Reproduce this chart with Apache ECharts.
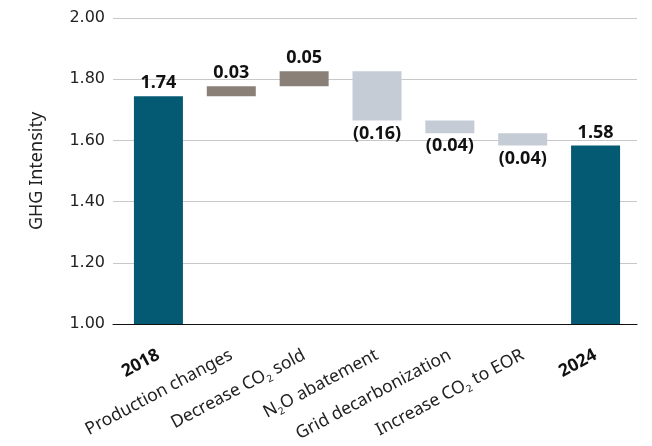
<!DOCTYPE html>
<html lang="en">
<head>
    <meta charset="UTF-8">
    <title>GHG Intensity</title>
    <script src="https://cdn.jsdelivr.net/npm/echarts@6/dist/echarts.min.js"></script>
    <style>
        body { margin: 0; background: #fff; }
    </style>
</head>
<body>
<div id="main" style="width: 652px;height:446px;"></div>

<script type="text/javascript">
    // 数据
    var categories = ['2018', 'Production changes', 'Decrease CO2 sold', 'N2O abatement',
        'Grid decarbonization', 'Increase CO2 to EOR', '2024'];
    var barValues = [1.744, 0.033, 0.049, -0.161, -0.042, -0.040, 1.583];
    var barKinds = ['total', 'up', 'up', 'down', 'down', 'down', 'total'];
    var yTicks = [1.0, 1.2, 1.4, 1.6, 1.8, 2.0];

    var colors = {total: '#045a73', up: '#8a8077', down: '#c5ccd5'};

    // 计算瀑布图的底座和高度
    var baseData = [];
    var showData = [];
    var running = 0;
    for (var i = 0; i < barValues.length; i++) {
        var v = barValues[i];
        var kind = barKinds[i];
        if (kind === 'total') {
            running = v;
            baseData.push(0);
            showData.push({value: v, itemStyle: {color: colors.total}, label: {position: 'top'}});
        } else if (v >= 0) {
            baseData.push(running);
            running += v;
            showData.push({value: v, itemStyle: {color: colors.up}, label: {position: 'top'}});
        } else {
            running += v;
            baseData.push(running);
            showData.push({value: -v, itemStyle: {color: colors.down}, label: {position: 'bottom'}});
        }
    }

    function xLabel(name, idx) {
        if (barKinds[idx] === 'total') {
            return '{b|' + name + '}';
        }
        var parts = name.split(/(CO2|N2O)/);
        var out = '';
        parts.forEach(function (p) {
            if (p === 'CO2') out += '{t|CO}{sub|2}';
            else if (p === 'N2O') out += '{t|N}{sub|2}{t|O}';
            else if (p) out += '{t|' + p + '}';
        });
        return out;
    }

    var myChart = echarts.init(document.getElementById('main'));
    myChart.setOption({
        animation: false,
        textStyle: {fontFamily: 'Noto Sans'},
        grid: [
            {left: 113, right: 15, top: 18, bottom: 122},
            {left: 122, right: 20, top: 18, bottom: 122}
        ],
        xAxis: [
            {
                gridIndex: 0, type: 'value', min: 0, max: 1,
                axisLine: {show: true, onZero: false, lineStyle: {color: '#111', width: 1.2}},
                axisTick: {show: false}, axisLabel: {show: false}, splitLine: {show: false}
            },
            {
                gridIndex: 1, type: 'category', data: categories,
                axisLine: {show: false}, axisTick: {show: false},
                axisLabel: {
                    interval: 0, rotate: 28, margin: 30, color: '#222',
                    fontSize: 17.5,
                    formatter: xLabel,
                    rich: {
                        t: {fontSize: 17.5, lineHeight: 22, color: '#222'},
                        sub: {fontSize: 10, lineHeight: 8, verticalAlign: 'bottom', color: '#222'},
                        b: {fontSize: 17.5, fontWeight: 'bold', lineHeight: 22, color: '#111'}
                    }
                }
            }
        ],
        yAxis: [
            {
                gridIndex: 0, type: 'value', min: 1.0, max: 2.0, interval: 0.2,
                name: 'GHG Intensity', nameLocation: 'middle', nameGap: 67,
                nameTextStyle: {fontSize: 18, color: '#222'},
                axisLine: {show: false}, axisTick: {show: false},
                axisLabel: {
                    margin: 8, fontSize: 16, color: '#222', fontFamily: 'DejaVu Sans',
                    formatter: function (v) { return v.toFixed(2); }
                },
                splitLine: {lineStyle: {color: '#c8c8c8', width: 1}}
            },
            {
                gridIndex: 1, type: 'value', min: 1.0, max: 2.0, interval: 0.2,
                show: false, splitLine: {show: false}
            }
        ],
        series: [
            {
                name: 'base', type: 'bar', stack: 'w', xAxisIndex: 1, yAxisIndex: 1,
                barWidth: 49, itemStyle: {color: 'transparent'},
                data: baseData, silent: true
            },
            {
                name: 'value', type: 'bar', stack: 'w', xAxisIndex: 1, yAxisIndex: 1,
                barWidth: 49,
                label: {
                    show: true, distance: 4, fontSize: 18, fontWeight: 'bold', color: '#111',
                    formatter: function (p) {
                        var v = barValues[p.dataIndex];
                        if (v < 0) return '(' + Math.abs(v).toFixed(2) + ')';
                        return v.toFixed(2);
                    }
                },
                data: showData
            }
        ]
    });
</script>
</body>
</html>
